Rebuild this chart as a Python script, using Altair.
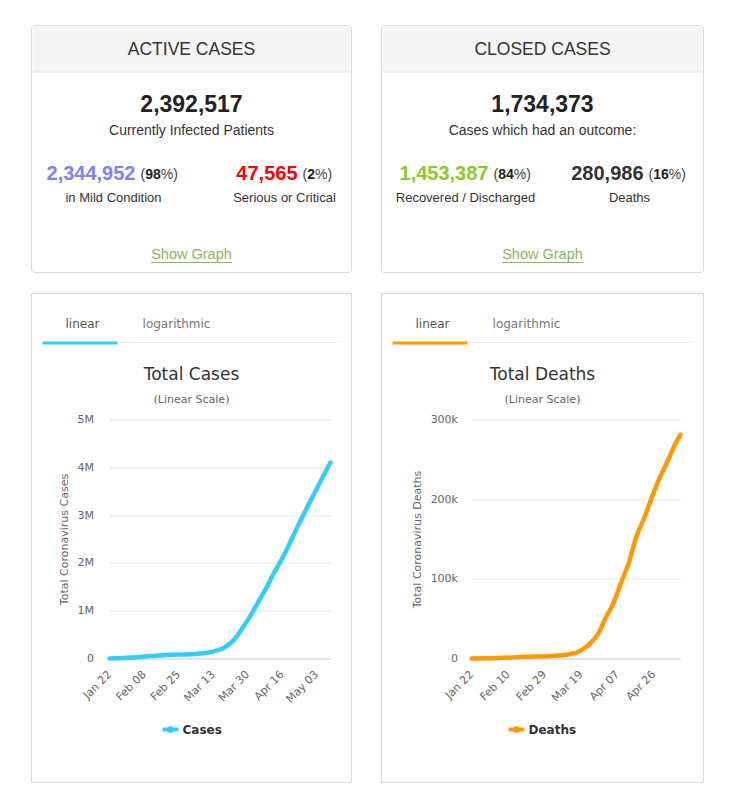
import altair as alt
import pandas as pd

# ---------------- summary card values ----------------
active_title = "ACTIVE CASES"
active_total = "2,392,517"
active_total_label = "Currently Infected Patients"
mild_value, mild_pct, mild_label = "2,344,952", "98", "in Mild Condition"
serious_value, serious_pct, serious_label = "47,565", "2", "Serious or Critical"

closed_title = "CLOSED CASES"
closed_total = "1,734,373"
closed_total_label = "Cases which had an outcome:"
recovered_value, recovered_pct, recovered_label = "1,453,387", "84", "Recovered / Discharged"
deaths_value, deaths_pct, deaths_label = "280,986", "16", "Deaths"

# ---------------- time series ----------------
case_dates = ["2020-01-22", "2020-02-05", "2020-02-19", "2020-03-04", "2020-03-13",
              "2020-03-18", "2020-03-21", "2020-03-24", "2020-03-27", "2020-03-31",
              "2020-04-04", "2020-04-08", "2020-04-12", "2020-04-16", "2020-04-20",
              "2020-04-24", "2020-04-28", "2020-05-02", "2020-05-06", "2020-05-10"]
case_values = [600, 28000, 75000, 95000, 145000,
               215000, 300000, 420000, 600000, 860000,
               1150000, 1450000, 1780000, 2080000, 2420000,
               2780000, 3120000, 3450000, 3780000, 4100000]

death_dates = ["2020-01-22", "2020-02-05", "2020-02-19", "2020-03-04", "2020-03-13",
               "2020-03-19", "2020-03-24", "2020-03-28", "2020-04-01", "2020-04-05",
               "2020-04-09", "2020-04-13", "2020-04-17", "2020-04-21", "2020-04-25",
               "2020-04-29", "2020-05-03", "2020-05-07", "2020-05-10"]
death_values = [17, 565, 2120, 3200, 5400,
                9900, 19000, 30800, 51000, 69500,
                95000, 120000, 153000, 176000, 202000,
                226000, 246000, 268000, 281000]

date_start, date_end = "2020-01-22", "2020-05-10"
case_x_ticks = ["2020-01-22", "2020-02-08", "2020-02-25", "2020-03-13",
                "2020-03-30", "2020-04-16", "2020-05-03"]
death_x_ticks = ["2020-01-22", "2020-02-10", "2020-02-29", "2020-03-19",
                 "2020-04-07", "2020-04-26"]
case_y_ticks = [0, 1000000, 2000000, 3000000, 4000000, 5000000]
death_y_ticks = [0, 100000, 200000, 300000]

CASES_COLOR = "#33ccff"
DEATHS_COLOR = "#ff9900"
CARD_FONT = "Liberation Sans"
CHART_FONT = "DejaVu Sans"
LINK_GREEN = "#8db55a"

one = pd.DataFrame({"k": [0]})


def dt(s):
    y, m, d = (int(p) for p in s.split("-"))
    return alt.DateTime(year=y, month=m, date=d, utc=True)


def txt(x, y, s, size, color="#333333", weight="normal", align="center", font=CARD_FONT):
    return alt.Chart(one).mark_text(
        text=s, fontSize=size, color=color, fontWeight=weight, align=align,
        baseline="middle", font=font
    ).encode(x=alt.value(x), y=alt.value(y))


def box(x1, x2, y1, y2, fill, stroke=None, radius=0, fill_opacity=1):
    kw = dict(fill=fill, fillOpacity=fill_opacity)
    if stroke:
        kw["stroke"] = stroke
        kw["strokeWidth"] = 1
    if radius:
        kw["cornerRadius"] = radius
    return alt.Chart(one).mark_rect(**kw).encode(
        x=alt.value(x1), x2=alt.value(x2), y=alt.value(y1), y2=alt.value(y2))


def hline(x1, x2, y, color, width=1):
    return alt.Chart(one).mark_rule(color=color, strokeWidth=width).encode(
        x=alt.value(x1), x2=alt.value(x2), y=alt.value(y))


def pct(x, y, p):
    # "(" + bold number + "%)"
    w_open = 0.333 * 14
    w_num = 0.556 * 14 * len(p)
    return [
        txt(x, y, "(", 14, "#444444", align="left"),
        txt(x + w_open, y, p, 14, "#222222", weight="bold", align="left"),
        txt(x + w_open + w_num, y, "%)", 14, "#444444", align="left"),
    ]


def card_layers(ox, oy, W, title, total, total_label, lv, lp, ll, lcol, lx,
                rv, rp, rl, rcol, rx, lcx, rcx):
    H = 247
    c = W / 2
    X = lambda v: ox + v
    Y = lambda v: oy + v
    return [
        box(X(0), X(W), Y(0), Y(H), "white", "#d9d9d9", 3),
        box(X(1), X(W - 1), Y(1), Y(46), "#f5f5f5"),
        hline(X(1), X(W - 1), Y(46.5), "#e2e2e2"),
        txt(X(c), Y(24), title, 17.5, "#333333"),
        txt(X(c), Y(79), total, 23, "#222222", weight="bold"),
        txt(X(c), Y(105), total_label, 14, "#333333"),
        txt(X(lx), Y(148), lv, 20, lcol, weight="bold", align="right"),
        *pct(X(lx + 5), Y(149), lp),
        txt(X(lcx), Y(172), ll, 13, "#333333"),
        txt(X(rx), Y(148), rv, 20, rcol, weight="bold", align="right"),
        *pct(X(rx + 5), Y(149), rp),
        txt(X(rcx), Y(172), rl, 13, "#333333"),
        txt(X(c), Y(229), "Show Graph", 14.5, LINK_GREEN),
        hline(X(c - 40.5), X(c + 40.5), Y(237), LINK_GREEN),
    ]


def line_panel(dates, values, color, title, ytitle, yticks, ymax, xticks, legend,
               pw, left, label_pad, W, card):
    df = pd.DataFrame({"date": dates, "value": values})
    line = alt.Chart(df).mark_line(
        color=color, strokeWidth=4.5, interpolate="monotone", strokeCap="round"
    ).encode(
        x=alt.X("date:T", title=None,
                scale=alt.Scale(type="utc", domain=[dt(date_start), dt(date_end)], nice=False),
                axis=alt.Axis(values=[dt(s) for s in xticks],
                              labelExpr="utcFormat(datum.value, '%b %d')",
                              labelAngle=-45, labelAlign="right", labelBaseline="middle",
                              labelPadding=14, ticks=False, grid=False, domainColor="#ccd6eb",
                              labelFont=CHART_FONT, labelFontSize=11, labelColor="#666666",
                              labelOverlap=False, labelFlush=False)),
        y=alt.Y("value:Q", title=ytitle,
                scale=alt.Scale(domain=[0, ymax], nice=False),
                axis=alt.Axis(values=yticks,
                              labelExpr="datum.value == 0 ? '0' : format(datum.value, '~s')",
                              domain=False, ticks=False,
                              gridColor="#e6e6e6", labelPadding=label_pad, titlePadding=8,
                              labelFont=CHART_FONT, labelFontSize=11, labelColor="#666666",
                              titleFont=CHART_FONT, titleFontSize=11, titleFontWeight="normal",
                              titleColor="#666666")),
    )
    cx = W / 2 - left
    L = -left
    deco = [
        box(L, L + W, -126, 363, "white", "#d9d9d9", 0, 0),
        txt(L + 51, -96, "linear", 12, "#555555", font=CHART_FONT),
        txt(L + 145, -96, "logarithmic", 12, "#777777", font=CHART_FONT),
        hline(L + 86, L + 311, -77, "#ebebeb"),
        hline(L + 11, L + 86, -76.5, color, 3),
        txt(cx, -45, title, 17, "#333333", font=CHART_FONT),
        txt(cx, -20, "(Linear Scale)", 11, "#666666", font=CHART_FONT),
    ]
    lx = cx - 29 if legend == "Cases" else cx - 34
    leg = [
        hline(lx, lx + 16, 310, color, 4),
        alt.Chart(one).mark_point(filled=True, color=color, size=45, opacity=1, shape="circle")
        .encode(x=alt.value(lx + 8), y=alt.value(310)),
        txt(lx + 20, 310, legend, 12, "#333333", weight="bold", align="left", font=CHART_FONT),
    ]
    return alt.layer(*card, *deco, line, *leg).properties(width=pw, height=239)


card1 = card_layers(-78, -394, 320, active_title, active_total, active_total_label,
                    mild_value, mild_pct, mild_label, "#8080ff", 104,
                    serious_value, serious_pct, serious_label, "#ff0000", 266, 82, 253)
card2 = card_layers(-90, -394, 322, closed_title, closed_total, closed_total_label,
                    recovered_value, recovered_pct, recovered_label, "#8aca2b", 107,
                    deaths_value, deaths_pct, deaths_label, "#333333", 262, 84, 248)

chart1 = line_panel(case_dates, case_values, CASES_COLOR, "Total Cases",
                    "Total Coronavirus Cases", case_y_ticks, 5000000, case_x_ticks,
                    "Cases", 221, 78, 16, 320, card1)
chart2 = line_panel(death_dates, death_values, DEATHS_COLOR, "Total Deaths",
                    "Total Coronavirus Deaths", death_y_ticks, 300000, death_x_ticks,
                    "Deaths", 209, 90, 14, 322, card2)

chart = alt.hconcat(chart1, chart2, spacing=28).properties(
    padding={"left": 30.5, "top": 24.5, "right": 5, "bottom": 5},
    background="white",
).configure_view(strokeOpacity=0)

chart.save("out.html", embed_options={"renderer": "svg", "actions": False})
